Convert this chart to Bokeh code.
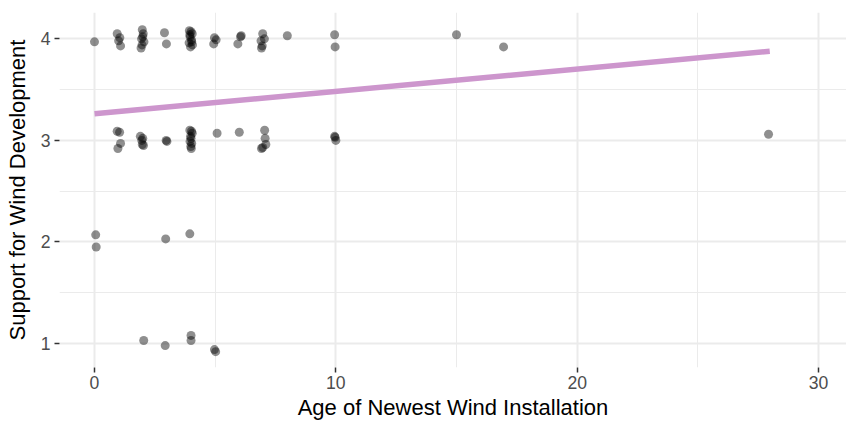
from bokeh.plotting import figure
from bokeh.models import ColumnDataSource, FixedTicker, Range1d
from bokeh.embed import file_html
from bokeh.resources import INLINE

# Jittered survey responses: age of newest wind installation vs. support score
age = [
    # support ~4
    0.00, 0.94, 1.05, 1.00, 1.08,
    1.98, 2.02, 1.95, 2.05, 1.97, 1.93, 2.00,
    2.90, 2.98,
    3.93, 4.00, 4.05, 3.96, 4.02, 3.92, 4.06, 3.98, 4.03, 3.95,
    4.97, 4.94, 5.04,
    6.05, 5.94, 6.08,
    6.97, 7.04, 6.90, 6.92, 6.95,
    7.99, 9.95, 9.97, 15.00, 16.95,
    # support ~3
    0.94, 1.04, 1.08, 0.97,
    1.90, 2.00, 1.96, 1.98, 2.03,
    2.97, 3.00,
    3.95, 4.02, 4.05, 3.98, 4.00, 3.96, 4.03, 3.99, 4.01,
    5.08, 6.00,
    7.05, 7.07, 7.10, 6.92, 6.97,
    9.95, 10.00, 9.97, 27.93,
    # support ~2
    0.05, 0.07, 2.95, 3.95,
    # support ~1
    2.04, 2.93, 4.00, 4.00, 4.97, 5.02,
]
support = [
    3.97, 4.05, 4.01, 3.98, 3.93,
    4.09, 4.05, 4.00, 3.97, 3.94, 3.91, 4.02,
    4.06, 3.95,
    4.08, 4.07, 4.05, 4.02, 3.99, 3.96, 3.94, 3.92, 3.97, 4.04,
    4.01, 3.95, 3.99,
    4.02, 3.95, 4.03,
    4.05, 4.00, 3.98, 3.91, 3.93,
    4.03, 4.04, 3.92, 4.04, 3.92,
    3.09, 3.08, 2.97, 2.92,
    3.04, 3.02, 3.00, 2.96, 2.95,
    3.00, 2.99,
    3.10, 3.09, 3.07, 3.04, 3.02, 2.99, 2.97, 2.94, 2.92,
    3.07, 3.08,
    3.10, 3.02, 2.96, 2.92, 2.93,
    3.04, 3.00, 3.03, 3.06,
    2.07, 1.95, 2.03, 2.08,
    1.03, 0.98, 1.08, 1.03, 0.94, 0.92,
]

# Linear trend endpoints
fit_age = [0.0, 27.98]
fit_support = [3.262, 3.877]

x_ticks = [0, 10, 20, 30]
x_minor = [5, 15, 25]
y_ticks = [1, 2, 3, 4]
y_minor = [1.5, 2.5, 3.5]

FONT = "Liberation Sans"

p = figure(
    width=846, height=422,
    x_range=Range1d(-1.45, 31.16), y_range=Range1d(0.764, 4.259),
    output_backend="svg", toolbar_location=None,
    min_border_left=59, min_border_right=0,
    min_border_top=12, min_border_bottom=55,
    outline_line_color=None,
    background_fill_color="white", border_fill_color="white",
)

xt = FixedTicker(ticks=x_ticks, minor_ticks=x_minor)
yt = FixedTicker(ticks=y_ticks, minor_ticks=y_minor)
p.xaxis.ticker = xt
p.yaxis.ticker = yt
p.xgrid.ticker = xt
p.ygrid.ticker = yt

for g in (p.xgrid, p.ygrid):
    g.grid_line_color = "#ebebeb"
    g.grid_line_width = 2
    g.minor_grid_line_color = "#ebebeb"
    g.minor_grid_line_width = 1

for ax in (p.xaxis, p.yaxis):
    ax.axis_line_color = None
    ax.major_tick_line_color = "#333333"
    ax.major_tick_line_width = 1.5
    ax.major_tick_in = 0
    ax.major_tick_out = 5
    ax.minor_tick_line_color = None
    ax.major_label_text_font = FONT
    ax.major_label_text_font_size = "17.6px"
    ax.major_label_text_color = "#4d4d4d"
    ax.axis_label_text_font = FONT
    ax.axis_label_text_font_size = "22px"
    ax.axis_label_text_font_style = "normal"
    ax.axis_label_text_color = "black"

p.xaxis.axis_label = "Age of Newest Wind Installation"
p.yaxis.axis_label = "Support for Wind Development"
p.xaxis.major_label_standoff = 3
p.xaxis.axis_label_standoff = 3
p.yaxis.major_label_standoff = 4
p.yaxis.axis_label_standoff = 8

src = ColumnDataSource(data=dict(age=age, support=support))
p.scatter("age", "support", source=src, size=9,
          fill_color="black", fill_alpha=0.44, line_color=None)

p.line(fit_age, fit_support, line_color="#CD96CD", line_width=5.5)

open("out.html", "w").write(file_html(p, INLINE))
